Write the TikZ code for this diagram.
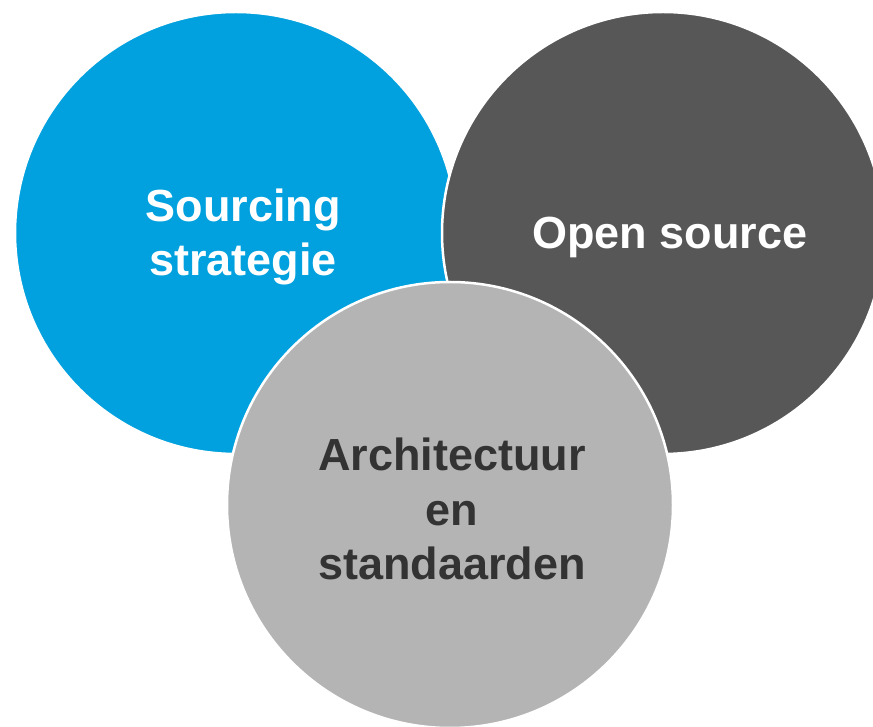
\documentclass[tikz,border=0pt]{standalone}
\usepackage{fontspec}
\setmainfont{Liberation Sans}
\definecolor{sourceblue}{RGB}{0,161,222}
\definecolor{opengray}{RGB}{87,87,87}
\definecolor{archgray}{RGB}{180,180,180}
\definecolor{archtext}{RGB}{51,51,51}
\tikzset{
bubble/.style      = {shape=circle, draw=white, line width=2.5pt,
                      minimum size=442pt, inner sep=0pt},
sourcing/.style    = {bubble, fill=sourceblue},
opensrc/.style     = {bubble, fill=opengray},
architectuur/.style= {bubble, fill=archgray, minimum size=446pt},
bubbletext/.style  = {align=center, inner sep=0pt, text=white,
                      font=\fontsize{45}{54.5}\selectfont\bfseries},
darktext/.style    = {bubbletext, text=archtext}
}

\begin{document}
\begin{tikzpicture}[x=1pt, y=1pt]
\useasboundingbox (0,0) rectangle (873,726);

\node (sourcing) [sourcing]     at (236,493) {};
\node (open)     [opensrc]      at (663,493) {};
\node (arch)     [architectuur] at (450,221) {};

\node (sourcing text) [bubbletext, xshift=7pt, yshift=-4pt] at (sourcing) {Sourcing\\strategie};
\node (open text)     [bubbletext, xshift=7pt, yshift=-4pt] at (open)     {Open source};
\node (arch text)     [darktext, xshift=2pt, yshift=-4pt]   at (arch)     {Architectuur\\en\\standaarden};
\end{tikzpicture}
\end{document}
